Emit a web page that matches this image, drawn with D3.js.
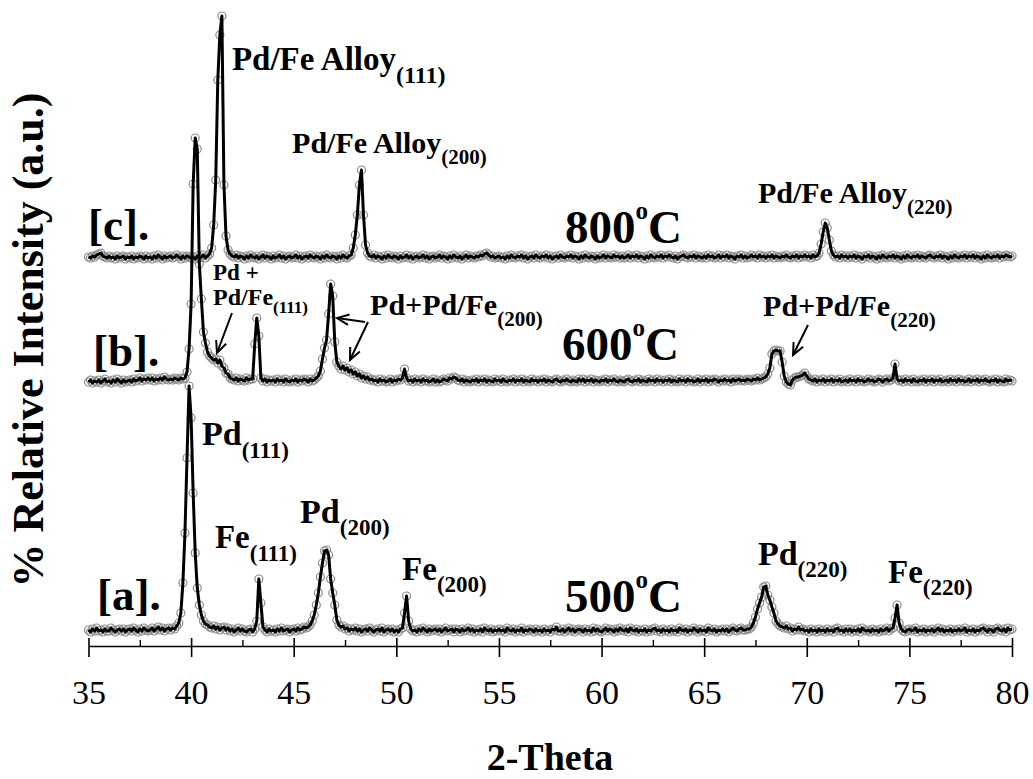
<!DOCTYPE html>
<html>
<head>
<meta charset="utf-8">
<script src="https://cdn.jsdelivr.net/npm/d3@7"></script>
<style>
  html, body { margin: 0; padding: 0; background: #fff; }
  svg { display: block; }
  text { font-family: "Liberation Serif", "Times New Roman", Times, serif; fill: #000; }
</style>
</head>
<body>
<svg id="chart" width="1033" height="779"></svg>
<script>
// XRD scans of Pd/Fe samples annealed at three temperatures.
// Scan grid: 35.0 – 80.0 degrees 2-theta, 0.1 degree step (451 points).
const scanStart = 35.0;
const scanStep = 0.1;

// Intensity above each pattern's own baseline (a.u.), one row per degree.
const int500 = [
  3,1,4,2,5,2,3,1,4,2,      // 35
  2,5,3,1,3,4,2,4,1,3,      // 36
  4,2,5,3,1,4,2,5,3,2,      // 37
  3,5,2,4,6,3,5,2,4,5,      // 38
  3,5,4,7,10,20,50,100,175,247, // 39
  215,140,80,45,28,18,12,9,8,6, // 40
  5,7,4,6,3,5,6,3,5,2,      // 41
  4,1,3,5,2,4,2,1,3,4,      // 42
  1,4,12,54,30,6,3,1,4,2,   // 43
  3,1,4,2,5,2,3,4,1,3,      // 44
  4,2,5,3,4,6,5,6,8,12,     // 45
  18,28,40,56,70,82,83,78,54,40, // 46
  28,13,8,6,7,4,5,2,4,3,    // 47
  5,2,4,1,3,4,2,5,3,1,      // 48
  3,4,2,5,1,3,4,2,4,1,      // 49
  3,1,4,5,20,37,12,4,2,3,   // 50
  1,4,2,5,3,1,4,2,3,4,      // 51
  2,4,1,3,5,2,3,4,1,4,      // 52
  3,1,4,2,3,5,2,4,1,3,      // 53
  2,4,1,5,3,2,4,1,3,2,      // 54
  4,2,3,1,5,3,2,4,1,3,      // 55
  2,5,1,3,2,4,3,1,4,2,      // 56
  3,1,4,2,3,1,4,3,6,2,      // 57
  2,4,1,3,5,2,4,1,3,4,      // 58
  3,1,4,2,3,1,5,2,4,2,      // 59
  1,3,5,2,4,3,1,4,2,5,      // 60
  3,2,4,1,5,3,2,4,1,3,      // 61
  2,4,1,3,2,4,5,2,3,1,      // 62
  4,2,3,1,4,2,3,1,5,3,      // 63
  2,4,1,3,2,5,3,1,4,2,      // 64
  3,1,5,3,2,4,1,3,2,4,      // 65
  2,4,1,3,5,3,2,4,5,3,      // 66
  3,4,4,6,10,16,24,30,36,46, // 67
  47,38,33,26,20,12,9,7,6,5, // 68
  7,4,5,2,4,3,6,3,4,2,      // 69
  3,1,4,2,3,1,4,2,3,1,      // 70
  4,2,3,1,4,5,2,3,1,4,      // 71
  2,4,1,3,2,4,1,5,3,2,      // 72
  3,1,4,2,3,1,4,2,3,5,      // 73
  2,4,5,15,28,10,4,2,1,3,   // 74
  4,2,3,5,1,3,2,4,1,3,      // 75
  2,4,1,3,5,2,4,1,3,2,      // 76
  4,1,3,2,4,2,3,5,1,3,      // 77
  2,4,1,3,2,4,5,3,1,4,      // 78
  3,1,4,5,3,2,4,1,5,3,      // 79
  4                         // 80
];

const int600 = [
  2,4,1,3,2,4,1,3,5,2,      // 35
  3,1,4,2,5,3,1,4,2,3,      // 36
  4,2,5,3,4,6,3,5,4,6,      // 37
  4,6,3,5,4,6,4,7,5,4,      // 38
  5,4,6,5,4,6,5,6,12,35,    // 39
  80,200,246,235,120,85,52,41,32,28, // 40
  26,24,25,21,24,18,16,11,10,6, // 41
  5,4,6,3,5,4,3,6,4,5,      // 42
  5,40,66,48,6,3,5,2,4,3,   // 43
  4,2,5,3,4,2,5,3,2,4,      // 44
  3,5,2,4,3,5,4,2,5,3,      // 45
  4,6,8,13,25,36,44,70,100,88, // 46
  42,22,18,15,18,14,16,12,14,10, // 47
  12,8,10,6,8,5,7,4,5,3,    // 48
  4,2,5,3,4,2,3,5,2,4,      // 49
  3,5,4,6,15,6,3,4,2,5,     // 50
  3,4,2,5,3,4,2,3,5,2,      // 51
  4,2,3,5,4,3,6,5,7,6,      // 52
  4,3,5,2,4,3,2,4,3,5,      // 53
  2,4,3,5,2,4,3,2,5,3,      // 54
  4,2,5,3,2,4,3,5,2,4,      // 55
  3,5,2,4,3,2,5,3,4,2,      // 56
  4,3,5,2,4,3,2,4,5,3,      // 57
  2,4,3,5,3,2,4,3,2,5,      // 58
  3,5,2,4,3,5,2,4,3,2,      // 59
  4,3,5,2,4,3,5,3,2,4,      // 60
  3,2,4,5,3,2,4,3,5,2,      // 61
  4,3,2,5,3,4,2,5,3,4,      // 62
  2,4,3,5,2,4,3,2,5,3,      // 63
  4,2,5,3,4,2,3,5,2,4,      // 64
  3,5,2,4,3,5,4,2,4,3,      // 65
  5,3,4,2,5,3,4,5,3,4,      // 66
  3,5,4,3,5,4,6,4,5,6,      // 67
  7,10,16,30,33,34,33,33,22,8, // 68
  2,0,-1,4,6,7,7,8,9,11,    // 69
  8,5,4,3,5,2,4,3,5,2,      // 70
  4,3,5,2,4,3,5,2,3,4,      // 71
  2,5,3,4,2,5,3,4,2,3,      // 72
  5,3,4,2,3,5,4,2,4,5,      // 73
  3,4,6,20,5,3,4,2,5,3,     // 74
  4,2,5,3,2,4,3,5,2,4,      // 75
  3,5,2,4,3,5,2,3,4,2,      // 76
  5,3,4,2,5,3,4,2,3,5,      // 77
  2,4,3,5,2,4,3,5,3,2,      // 78
  4,3,5,2,4,3,2,5,3,4,      // 79
  3                         // 80
];

const int800 = [
  3,2,4,3,5,6,7,4,3,2,      // 35
  4,2,3,1,4,2,3,4,1,3,      // 36
  2,4,1,3,2,4,3,1,4,2,      // 37
  3,1,4,2,5,3,1,4,2,3,      // 38
  4,2,3,5,3,1,4,2,4,3,      // 39
  2,3,1,4,2,3,5,2,4,6,      // 40
  12,35,80,180,225,244,75,24,10,6, // 41
  4,3,5,2,4,3,1,4,2,5,      // 42
  3,2,4,1,3,5,2,4,3,1,      // 43
  4,2,3,5,2,4,1,3,4,2,      // 44
  3,5,2,4,1,3,4,2,5,3,      // 45
  2,4,3,1,4,2,5,3,2,4,      // 46
  3,1,4,2,5,3,2,4,5,12,     // 47
  25,45,75,90,45,15,7,4,3,5, // 48
  2,4,3,1,4,2,5,3,2,4,      // 49
  3,1,4,2,3,5,2,4,1,3,      // 50
  4,2,3,5,2,4,1,3,4,2,      // 51
  3,5,2,4,3,1,4,2,5,3,      // 52
  2,4,1,3,5,2,4,3,2,4,      // 53
  3,5,4,6,7,5,3,4,2,3,      // 54
  4,2,3,1,4,2,5,3,2,4,      // 55
  3,5,2,4,1,3,4,2,5,3,      // 56
  2,4,3,5,2,4,1,3,4,2,      // 57
  5,3,2,4,3,5,2,4,3,1,      // 58
  4,2,5,3,2,4,3,1,4,2,      // 59
  3,5,2,4,3,2,5,3,4,2,      // 60
  4,2,3,5,2,4,3,5,2,4,      // 61
  3,1,4,2,5,3,2,4,3,5,      // 62
  2,4,3,5,3,2,4,1,3,4,      // 63
  5,3,2,4,3,5,2,4,3,2,      // 64
  4,2,5,3,4,2,3,5,2,4,      // 65
  3,5,2,4,3,1,4,3,5,2,      // 66
  4,2,3,5,3,4,2,5,3,4,      // 67
  2,4,3,5,2,4,3,2,4,3,      // 68
  5,3,2,4,3,5,2,4,3,5,      // 69
  3,4,2,5,3,4,7,16,28,37,   // 70
  32,20,9,5,3,4,2,5,3,4,    // 71
  2,4,3,5,2,4,3,1,4,3,      // 72
  5,2,4,3,1,4,2,5,3,2,      // 73
  4,3,5,2,4,3,1,4,2,5,      // 74
  3,2,4,3,5,2,4,3,2,4,      // 75
  5,3,2,4,3,5,2,4,3,1,      // 76
  4,2,5,3,2,4,3,5,2,4,      // 77
  3,5,2,4,3,1,4,2,5,3,      // 78
  2,4,3,5,2,4,3,5,4,3,      // 79
  4                         // 80
];

// Vertical stacking offset of each pattern (a.u.)
const stackOffsets = [13, 262, 386];
const seriesNames = ["500oC", "600oC", "800oC"];
const seriesValues = [int500, int600, int800];

// Axis ticks
const majorTicks = [35, 40, 45, 50, 55, 60, 65, 70, 75, 80];
const minorTicks = [37.5, 42.5, 47.5, 52.5, 57.5, 62.5, 67.5, 72.5, 77.5];

const svg = d3.select("#chart");
const axisY = 646;
const x = d3.scaleLinear().domain([35, 80]).range([88.5, 1012]);
const y = d3.scaleLinear().domain([0, 640]).range([axisY, 6]);

const twoTheta = d3.range(seriesValues[0].length).map(i => +(scanStart + i * scanStep).toFixed(1));

// Patterns: grey open markers under a heavy black trace
const plot = svg.append("g");
const drawOrder = [2, 1, 0];
drawOrder.forEach(si => {
  const pts = seriesValues[si].map((v, i) => [twoTheta[i], v + stackOffsets[si]]);
  const g = plot.append("g").attr("class", "pattern").attr("data-name", seriesNames[si]);
  g.selectAll("circle").data(pts).join("circle")
    .attr("cx", d => x(d[0])).attr("cy", d => y(d[1]))
    .attr("r", 4).attr("fill", "none")
    .attr("stroke", "#8a8a8a").attr("stroke-width", 1.2);
  g.append("path").datum(pts)
    .attr("d", d3.line().x(d => x(d[0])).y(d => y(d[1])))
    .attr("fill", "none").attr("stroke", "#000")
    .attr("stroke-width", 3).attr("stroke-linejoin", "round");
});

// Bottom axis: major ticks cross the line, minor ticks point inward
const serif = "'Liberation Serif', 'Times New Roman', serif";
const axisG = svg.append("g").attr("transform", `translate(0,${axisY})`);
axisG.call(d3.axisBottom(x).tickValues(majorTicks).tickSizeInner(11).tickSizeOuter(0).tickFormat(d3.format("d")));
axisG.attr("font-family", serif).attr("font-size", 34);
axisG.select(".domain").attr("stroke-width", 1.6);
axisG.selectAll(".tick line").attr("stroke-width", 1.6);
axisG.selectAll(".tick text")
  .attr("y", 58).attr("dy", 0)
  .style("font-family", serif)
  .style("font-size", "34px");
const upG = svg.append("g").attr("transform", `translate(0,${axisY})`);
upG.call(d3.axisTop(x).tickValues(majorTicks).tickSize(8).tickFormat(""));
upG.select(".domain").remove();
upG.selectAll(".tick line").attr("stroke-width", 1.6);
const minG = svg.append("g").attr("transform", `translate(0,${axisY})`);
minG.call(d3.axisTop(x).tickValues(minorTicks).tickSize(6).tickFormat(""));
minG.select(".domain").remove();
minG.selectAll(".tick line").attr("stroke-width", 1.4);

// Axis titles
svg.append("text")
  .attr("x", 550).attr("y", 770)
  .attr("text-anchor", "middle")
  .style("font-weight", "bold").style("font-size", "38px")
  .text("2-Theta");
svg.append("text")
  .attr("transform", "translate(43,340) rotate(-90)")
  .attr("text-anchor", "middle")
  .style("font-weight", "bold").style("font-size", "44px")
  .text("% Relative Intensity (a.u.)");

// Peak assignments (position in 2-theta / a.u., font sizes in px)
const labels = [
  { t: "Pd/Fe Alloy", s: "(111)", tx: 41.99, ty: 576, fs: 33, ss: 24, dy: 13 },
  { t: "Pd/Fe Alloy", s: "(200)", tx: 44.92, ty: 493, fs: 30, ss: 21, dy: 11 },
  { t: "Pd/Fe Alloy", s: "(220)", tx: 67.62, ty: 443, fs: 30, ss: 21, dy: 11 },
  { t: "Pd +", s: "", tx: 41.07, ty: 366, fs: 23, ss: 17, dy: 8 },
  { t: "Pd/Fe", s: "(111)", tx: 41.07, ty: 341, fs: 24, ss: 17, dy: 8 },
  { t: "Pd+Pd/Fe", s: "(200)", tx: 48.72, ty: 331, fs: 30, ss: 21, dy: 11 },
  { t: "Pd+Pd/Fe", s: "(220)", tx: 67.87, ty: 330, fs: 30, ss: 21, dy: 11 },
  { t: "Pd", s: "(111)", tx: 40.53, ty: 201, fs: 34, ss: 23, dy: 13 },
  { t: "Fe", s: "(111)", tx: 41.16, ty: 98, fs: 33, ss: 23, dy: 13 },
  { t: "Pd", s: "(200)", tx: 45.31, ty: 123, fs: 34, ss: 23, dy: 12 },
  { t: "Fe", s: "(200)", tx: 50.28, ty: 66, fs: 33, ss: 23, dy: 12 },
  { t: "Pd", s: "(220)", tx: 67.62, ty: 81, fs: 34, ss: 23, dy: 12 },
  { t: "Fe", s: "(220)", tx: 73.96, ty: 63, fs: 33, ss: 23, dy: 12 }
];
labels.forEach(l => {
  const tx = svg.append("text")
    .attr("x", x(l.tx)).attr("y", y(l.ty))
    .style("font-weight", "bold").style("font-size", l.fs + "px");
  tx.append("tspan").text(l.t);
  if (l.s) tx.append("tspan").attr("dy", l.dy).style("font-size", l.ss + "px").text(l.s);
});

// Pattern tags and annealing temperatures
const tags = [
  { t: "[a].", tx: 35.41, ty: 36 },
  { t: "[b].", tx: 35.22, ty: 280 },
  { t: "[c].", tx: 34.98, ty: 406 }
];
tags.forEach(l => {
  svg.append("text").attr("x", x(l.tx)).attr("y", y(l.ty))
    .style("font-weight", "bold").style("font-size", "45px").text(l.t);
});
const temps = [
  { t: "500", tx: 58.22, ty: 34 },
  { t: "600", tx: 58.07, ty: 286 },
  { t: "800", tx: 58.22, ty: 403 }
];
temps.forEach(l => {
  const tx = svg.append("text").attr("x", x(l.tx)).attr("y", y(l.ty))
    .style("font-weight", "bold").style("font-size", "47px");
  tx.append("tspan").text(l.t);
  tx.append("tspan").attr("dy", -24).style("font-size", "25px").text("o");
  tx.append("tspan").attr("dy", 24).text("C");
});

// Arrows pointing at shoulder reflections
const arrows = [
  { x1: 41.99, y1: 333, x2: 41.26, y2: 293 },
  { x1: 48.48, y1: 324, x2: 47.11, y2: 328 },
  { x1: 48.62, y1: 324, x2: 47.74, y2: 286 },
  { x1: 70.06, y1: 321, x2: 69.33, y2: 291 }
];
arrows.forEach(a => {
  const X1 = x(a.x1), Y1 = y(a.y1), X2 = x(a.x2), Y2 = y(a.y2);
  const ang = Math.atan2(Y1 - Y2, X1 - X2);
  const len = 13, spread = 0.42;
  const g = svg.append("g").attr("stroke", "#000").attr("stroke-width", 2).attr("fill", "none");
  g.append("line").attr("x1", X1).attr("y1", Y1).attr("x2", X2).attr("y2", Y2);
  g.append("path").attr("d",
    `M${X2 + len * Math.cos(ang - spread)},${Y2 + len * Math.sin(ang - spread)}` +
    `L${X2},${Y2}` +
    `L${X2 + len * Math.cos(ang + spread)},${Y2 + len * Math.sin(ang + spread)}`);
});
</script>
</body>
</html>
